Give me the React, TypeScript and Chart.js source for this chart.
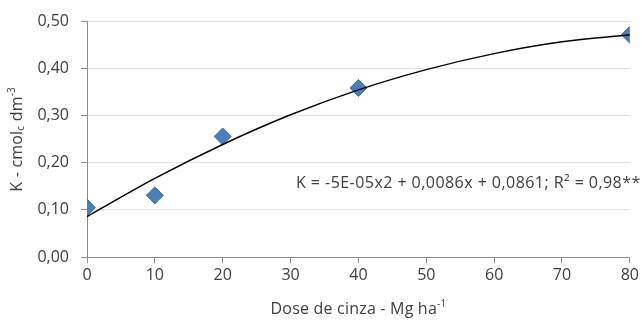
import React, { useEffect, useRef } from "react";
import { Chart, registerables } from "chart.js";

Chart.register(...registerables);

const doses = [0, 10, 20, 40, 80];
const potassium = [0.105, 0.131, 0.256, 0.359, 0.472];
const trendX = [0, 10, 20, 30, 40, 50, 60, 70, 80];
const trendY = [0.086, 0.167, 0.239, 0.302, 0.355, 0.398, 0.432, 0.457, 0.472];
const yTicks = [0, 0.1, 0.2, 0.3, 0.4, 0.5];
const xTicks = [0, 10, 20, 30, 40, 50, 60, 70, 80];
const equationText = "K = -5E-05x2 + 0,0086x + 0,0861; R² = 0,98**";

const FONT = "'Open Sans', 'DejaVu Sans', sans-serif";
const TEXT = "#404040";

type Seg = { t: string; shift?: number; small?: boolean };

function drawRich(ctx: CanvasRenderingContext2D, segs: Seg[], size: number, cx: number, cy: number, rot: number) {
  const small = Math.round(size * 0.65);
  (ctx as any).letterSpacing = "0.2px";
  let total = 0;
  const widths = segs.map((s) => {
    ctx.font = `${s.small ? small : size}px ${FONT}`;
    const w = ctx.measureText(s.t).width;
    total += w;
    return w;
  });
  ctx.save();
  ctx.translate(cx, cy);
  ctx.rotate(rot);
  ctx.fillStyle = TEXT;
  ctx.textBaseline = "middle";
  ctx.textAlign = "left";
  let x = -total / 2;
  segs.forEach((s, i) => {
    ctx.font = `${s.small ? small : size}px ${FONT}`;
    ctx.fillText(s.t, x, s.shift || 0);
    x += widths[i];
  });
  ctx.restore();
  (ctx as any).letterSpacing = "0px";
}

const textPlugin = {
  id: "richText",
  afterDraw(chart: any) {
    const ctx = chart.ctx as CanvasRenderingContext2D;
    const area = chart.chartArea;
    drawRich(
      ctx,
      [
        { t: "K - cmol" },
        { t: "c", small: true, shift: 4 },
        { t: " dm" },
        { t: "-3", small: true, shift: -5 },
      ],
      16,
      17,
      (area.top + area.bottom) / 2,
      -Math.PI / 2
    );
    drawRich(
      ctx,
      [{ t: "Dose de cinza - Mg ha" }, { t: "-1", small: true, shift: -5 }],
      16,
      (area.left + area.right) / 2,
      309,
      0
    );
    const ys = chart.scales.y;
    const xs = chart.scales.x;
    ctx.save();
    (ctx as any).letterSpacing = "0.45px";
    ctx.font = `16px ${FONT}`;
    ctx.fillStyle = TEXT;
    ctx.textBaseline = "middle";
    ctx.textAlign = "left";
    ctx.fillText(equationText, xs.getPixelForValue(30.8), ys.getPixelForValue(0.156));
    (ctx as any).letterSpacing = "0px";
    ctx.restore();
  },
};

export default function App() {
  const ref = useRef<HTMLCanvasElement | null>(null);
  useEffect(() => {
    document.body.style.margin = "0";
    const canvas = ref.current!;
    const chart = new Chart(canvas, {
      type: "scatter",
      data: {
        datasets: [
          {
            type: "line",
            label: "trend",
            data: trendX.map((x, i) => ({ x, y: trendY[i] })),
            borderColor: "#000000",
            borderWidth: 1.5,
            pointRadius: 0,
            cubicInterpolationMode: "monotone",
            fill: false,
          },
          {
            label: "K",
            data: doses.map((x, i) => ({ x, y: potassium[i] })),
            pointStyle: "rectRot",
            pointRadius: 8.5,
            backgroundColor: "#4a7ebb",
            borderColor: "#3f6fa8",
            borderWidth: 1,
          },
        ],
      } as any,
      options: {
        animation: false,
        responsive: false,
        maintainAspectRatio: false,
        events: [],
        layout: { padding: { top: 20, right: 11, left: 0, bottom: 0 } },
        plugins: { legend: { display: false }, tooltip: { enabled: false } },
        scales: {
          x: {
            type: "linear",
            min: 0,
            max: 80,
            afterBuildTicks: (s: any) => {
              s.ticks = xTicks.map((v) => ({ value: v }));
            },
            afterFit: (s: any) => {
              s.height = 65;
            },
            ticks: {
              color: TEXT,
              font: { family: FONT, size: 16 },
              padding: 3,
              maxRotation: 0,
              callback: (v: any) => String(v),
            },
            grid: {
              drawOnChartArea: false,
              drawTicks: true,
              tickLength: 6,
              tickColor: "#8c8c8c",
            },
            border: { display: true, color: "#8c8c8c", width: 1 },
          },
          y: {
            type: "linear",
            min: 0,
            max: 0.5,
            afterBuildTicks: (s: any) => {
              s.ticks = yTicks.map((v) => ({ value: v }));
            },
            afterFit: (s: any) => {
              s.width = 87;
            },
            ticks: {
              color: TEXT,
              font: { family: FONT, size: 16 },
              padding: 12,
              callback: (v: any) => Number(v).toFixed(2).replace(".", ","),
            },
            grid: {
              color: "#e3e3e3",
              lineWidth: 1,
              drawTicks: true,
              tickLength: 6,
              tickColor: "#8c8c8c",
            },
            border: { display: true, color: "#8c8c8c", width: 1 },
          },
        },
      } as any,
      plugins: [textPlugin],
    });
    return () => chart.destroy();
  }, []);
  return <canvas ref={ref} width={642} height={322} style={{ display: "block" }} />;
}
